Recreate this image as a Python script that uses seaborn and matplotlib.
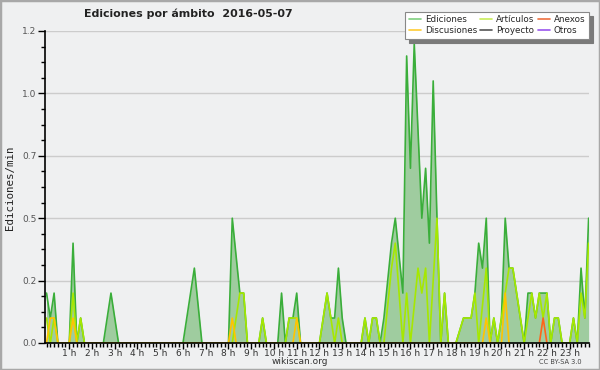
import numpy as np
import pandas as pd
import matplotlib
matplotlib.use("Agg")
import matplotlib.pyplot as plt
import seaborn as sns
from matplotlib.lines import Line2D
from matplotlib.patches import Rectangle

#-----------------------------
# Daten: Ediciones/min, 10-min
#-----------------------------
ediciones = [
    0.2, 0.1, 0.2, 0, 0, 0,          # 0 h
    0, 0.4, 0, 0.1, 0, 0,            # 1 h
    0, 0, 0, 0, 0.1, 0.2,            # 2 h
    0.1, 0, 0, 0, 0, 0,              # 3 h
    0, 0, 0, 0, 0, 0,                # 4 h
    0, 0, 0, 0, 0, 0,                # 5 h
    0, 0.1, 0.2, 0.3, 0.15, 0,       # 6 h
    0, 0, 0, 0, 0, 0,                # 7 h
    0, 0.5, 0.35, 0.2, 0.2, 0,       # 8 h
    0, 0, 0, 0.1, 0, 0,              # 9 h
    0, 0, 0.2, 0, 0.1, 0.1,          # 10 h
    0.2, 0, 0, 0, 0, 0,              # 11 h
    0, 0.1, 0.2, 0.1, 0.1, 0.3,      # 12 h
    0.1, 0, 0, 0, 0, 0,              # 13 h
    0.1, 0, 0.1, 0.1, 0, 0.1,        # 14 h
    0.25, 0.4, 0.5, 0.35, 0.2, 1.15, # 15 h
    0.7, 1.2, 0.85, 0.5, 0.7, 0.4,   # 16 h
    1.05, 0.5, 0, 0.2, 0, 0,         # 17 h
    0, 0.05, 0.1, 0.1, 0.1, 0.2,     # 18 h
    0.4, 0.3, 0.5, 0, 0.1, 0,        # 19 h
    0.1, 0.5, 0.3, 0.3, 0.2, 0.1,    # 20 h
    0, 0.2, 0.2, 0.1, 0.2, 0.2,      # 21 h
    0.2, 0, 0.1, 0.1, 0, 0,          # 22 h
    0, 0.1, 0, 0.3, 0.1, 0.5,        # 23 h
]

articulos = [
    0.1, 0, 0.1, 0, 0, 0,
    0, 0.2, 0, 0.1, 0, 0,
    0, 0, 0, 0, 0, 0,
    0, 0, 0, 0, 0, 0,
    0, 0, 0, 0, 0, 0,
    0, 0, 0, 0, 0, 0,
    0, 0, 0, 0, 0, 0,
    0, 0, 0, 0, 0, 0,
    0, 0, 0.1, 0.2, 0.2, 0,
    0, 0, 0, 0.1, 0, 0,
    0, 0, 0, 0, 0.1, 0.1,
    0.1, 0, 0, 0, 0, 0,
    0, 0.1, 0.2, 0.1, 0, 0.1,
    0, 0, 0, 0, 0, 0,
    0.1, 0, 0.1, 0.1, 0, 0,
    0.15, 0.3, 0.4, 0.2, 0, 0.2,
    0, 0.15, 0.3, 0.2, 0.3, 0,
    0.25, 0.5, 0, 0.2, 0, 0,
    0, 0.05, 0.1, 0.1, 0.1, 0.2,
    0, 0.15, 0.3, 0, 0.1, 0,
    0.1, 0.2, 0.3, 0.3, 0.2, 0.1,
    0, 0.1, 0.2, 0.1, 0.2, 0.1,
    0.2, 0, 0.1, 0.1, 0, 0,
    0, 0.1, 0, 0.2, 0.1, 0.4,
]

discusiones = [
    0, 0.1, 0.1, 0, 0, 0,
    0, 0.1, 0, 0, 0, 0,
    0, 0, 0, 0, 0, 0,
    0, 0, 0, 0, 0, 0,
    0, 0, 0, 0, 0, 0,
    0, 0, 0, 0, 0, 0,
    0, 0, 0, 0, 0, 0,
    0, 0, 0, 0, 0, 0,
    0, 0.1, 0, 0, 0, 0,
    0, 0, 0, 0, 0, 0,
    0, 0, 0, 0, 0, 0,
    0.1, 0, 0, 0, 0, 0,
    0, 0, 0, 0, 0, 0,
    0, 0, 0, 0, 0, 0,
    0, 0, 0, 0, 0, 0,
    0, 0, 0, 0, 0, 0,
    0, 0, 0, 0, 0, 0,
    0, 0, 0, 0, 0, 0,
    0, 0, 0, 0, 0, 0,
    0, 0, 0.1, 0, 0, 0,
    0, 0.2, 0, 0, 0, 0,
    0, 0, 0, 0, 0, 0,
    0, 0, 0, 0, 0, 0,
    0, 0, 0, 0, 0, 0,
]

anexos = [0] * 131 + [0.1] + [0] * 12

hour_labels = [f"{h} h" for h in range(1, 24)]
y_ticks = [0, 0.25, 0.5, 0.75, 1.0, 1.25]
y_labels = ["0.0", "0.2", "0.5", "0.7", "1.0", "1.2"]

legend_names = ["Ediciones", "Discusiones", "Artículos", "Proyecto", "Anexos", "Otros"]
legend_colors = ["#7fcf7f", "#ffcc33", "#c8ec5a", "#555555", "#ee7040", "#9955ee"]


# Nullstrecken ausblenden (Linie liegt sonst auf der x-Achse)
def ohne_nullen(werte):
    v = np.asarray(werte, dtype=float)
    links = np.r_[0.0, v[:-1]]
    rechts = np.r_[v[1:], 0.0]
    return np.where((v == 0) & (links == 0) & (rechts == 0), np.nan, v)


#-----------
# DataFrame
#-----------
bins = np.arange(len(ediciones))
df = pd.DataFrame({
    "bin": bins,
    "Ediciones": ohne_nullen(ediciones),
    "Artículos": ohne_nullen(articulos),
    "Discusiones": ohne_nullen(discusiones),
    "Anexos": ohne_nullen(anexos),
}).melt(id_vars="bin", var_name="serie", value_name="valor")

line_colors = {
    "Ediciones": "#3aae3a",
    "Artículos": "#a6e800",
    "Discusiones": "#ffc400",
    "Anexos": "#ff6418",
}

bg = "#eff0f1"

sns.set_style("white")
plt.rcParams["font.family"] = ["DejaVu Sans"]

fig = plt.figure(figsize=(6, 3.7), dpi=100, facecolor=bg)
ax = fig.add_axes([45 / 600, 1 - 343 / 370, 544 / 600, 312 / 370])
ax.set_facecolor(bg)

for y in y_ticks[1:]:
    ax.axhline(y, color="#cccccc", lw=1, zorder=0)

ax.fill_between(bins, ediciones, color="#9fcc9f", lw=0, zorder=1)
sns.lineplot(data=df, x="bin", y="valor", hue="serie",
             hue_order=["Ediciones", "Artículos", "Discusiones", "Anexos"],
             palette=line_colors, lw=1.2, legend=False, ax=ax, zorder=2)

ax.set_xlim(-0.4, 143.1)
ax.set_ylim(0, 1.25)

for s in ["top", "right"]:
    ax.spines[s].set_visible(False)
for s in ["left", "bottom"]:
    ax.spines[s].set_color("black")
    ax.spines[s].set_linewidth(1.2)
    ax.spines[s].set_zorder(5)

ax.set_xticks(np.arange(6, 144, 6))
ax.set_xticklabels(hour_labels)
ax.set_xticks(bins, minor=True)
ax.set_yticks(y_ticks)
ax.set_yticklabels(y_labels)
ax.set_yticks(np.arange(0, 1.26, 0.0625), minor=True)
ax.tick_params(axis="x", which="both", bottom=True)
ax.tick_params(axis="y", which="both", left=True)
ax.tick_params(axis="x", which="major", direction="out", length=4, width=1,
               labelsize=6.5, pad=0, colors="black", labelcolor="#333333")
ax.tick_params(axis="x", which="minor", direction="out", length=3, width=1,
               colors="black")
ax.tick_params(axis="y", which="major", direction="out", length=5, width=1,
               labelsize=6.5, pad=1, colors="black", labelcolor="#555555")
ax.tick_params(axis="y", which="minor", direction="out", length=3, width=1,
               colors="black")
ax.set_xlabel("")
ax.set_ylabel("")

#-------
# Texte
#-------
fig.text(188 / 600, 1 - 14 / 370, "Ediciones por ámbito  2016-05-07",
         ha="center", va="center", fontsize=7.9, fontweight="bold", color="#222222")
fig.text(10 / 600, 1 - 188 / 370, "Ediciones/min", rotation=90, ha="center",
         va="center", fontsize=7.8, family="DejaVu Sans Mono", color="#222222")
fig.text(300 / 600, 1 - 361 / 370, "wikiscan.org", ha="center", va="center",
         fontsize=6.5, color="#333333")
fig.text(560 / 600, 1 - 362 / 370, "CC BY-SA 3.0", ha="center", va="center",
         fontsize=4.8, color="#444444")

handles = [Line2D([0], [0], color=c, lw=1.2) for c in legend_colors]
leg = ax.legend(handles, legend_names, ncol=3, loc="upper right",
                bbox_to_anchor=(589 / 600, 1 - 12 / 370), bbox_transform=fig.transFigure,
                fontsize=6.3, frameon=True, fancybox=False,
                shadow={"ox": 3, "oy": -3, "color": "#7a7a7a", "alpha": 1},
                handlelength=1.4, handletextpad=0.45, columnspacing=0.35,
                labelspacing=0.2, borderpad=0.4, borderaxespad=0)
leg.get_frame().set_edgecolor("#888888")
leg.get_frame().set_linewidth(0.8)
leg.get_frame().set_facecolor("white")
leg.set_zorder(10)

fig.add_artist(Rectangle((0, 0), 1, 1, transform=fig.transFigure, fill=False,
                         edgecolor="#a8a8a8", lw=2.5))

plt.savefig("out.png", dpi=100, facecolor=bg)
